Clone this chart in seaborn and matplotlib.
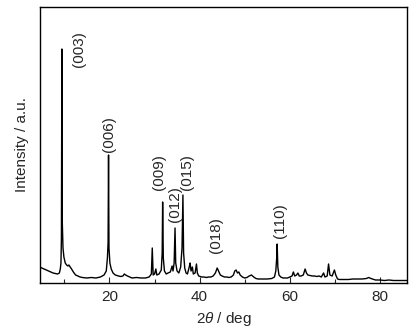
import matplotlib
matplotlib.use("Agg")
import matplotlib.pyplot as plt
import seaborn as sns
import pandas as pd
from matplotlib.ticker import MultipleLocator

two_theta = [4.6, 5.0, 5.5, 6.0, 6.5, 7.0, 7.5, 8.0, 8.5, 8.9, 9.1, 9.25, 9.35, 9.45, 9.55, 9.7,
             9.9, 10.2, 10.5, 10.8, 11.0, 11.3, 11.6, 12.0, 12.5, 13.0, 13.5, 14.0, 15.0, 16.0,
             17.0, 18.0, 18.8, 19.3, 19.55, 19.7, 19.8, 19.9, 20.1, 20.4, 20.8, 21.3, 22.0, 22.5,
             23.0, 23.3, 23.6, 24.0, 24.5, 25.0, 26.0, 27.0, 28.0, 28.8, 29.3, 29.5, 29.7, 30.0,
             30.3, 30.5, 31.0, 31.5, 31.7, 31.8, 31.95, 32.2, 32.6, 33.0, 33.5, 33.9, 34.1, 34.35,
             34.55, 34.7, 35.0, 35.4, 35.8, 36.1, 36.3, 36.45, 36.7, 37.0, 37.3, 37.7, 37.9, 38.1,
             38.4, 38.6, 39.0, 39.3, 39.5, 39.8, 40.5, 41.0, 41.5, 42.0, 42.5, 43.0, 43.5, 43.9,
             44.2, 44.6, 45.0, 45.5, 46.0, 46.5, 47.0, 47.5, 47.8, 48.1, 48.4, 48.7, 49.0, 49.5,
             50.0, 50.5, 51.0, 51.5, 52.0, 52.5, 53.0, 54.0, 55.0, 56.0, 56.6, 56.9, 57.1, 57.2,
             57.35, 57.6, 58.0, 58.5, 59.0, 59.5, 60.0, 60.5, 60.8, 61.1, 61.5, 61.8, 62.1, 62.5,
             63.0, 63.4, 63.7, 64.0, 64.5, 65.0, 65.5, 66.0, 66.5, 67.0, 67.5, 67.8, 68.3, 68.6,
             68.9, 69.4, 69.9, 70.2, 70.6, 71.0, 72.0, 73.0, 74.0, 75.0, 76.0, 77.0, 77.5, 78.0,
             79.0, 80.0, 81.0, 82.0, 83.0, 84.0, 85.0, 86.0]
intensity = [16, 15, 14, 13, 12, 11, 10, 9.5, 9, 10, 14, 20, 45, 234, 60, 35,
             26, 20, 18, 17, 18, 16, 14, 11, 8, 7, 6, 5.5, 5, 5.5,
             5, 6, 8, 12, 25, 40, 128, 35, 20, 14, 10, 8, 7, 6.5,
             7, 9, 8, 7, 6, 5, 5.5, 5, 5, 6, 9, 35, 8, 9,
             14, 8, 9, 13, 30, 81, 25, 12, 9, 10, 11, 17, 12, 20,
             55, 20, 12, 10, 16, 35, 88, 30, 15, 10, 9, 16, 20, 12,
             16, 9, 10, 19, 10, 7, 6, 6, 5.5, 6, 6, 7, 10, 15,
             12, 8, 7, 6, 6, 5.5, 6, 8, 12, 13, 10, 11, 8, 6,
             5, 5.5, 7, 8, 6, 4.5, 4, 4, 4, 4.5, 6, 12, 25, 39,
             16, 8, 6, 5, 5, 5, 6, 7, 11, 7, 8, 10, 7, 7,
             8, 14, 10, 8, 7.5, 7, 7, 6.5, 7, 6, 10, 6, 7, 19,
             8, 7, 13, 8, 4, 3.5, 3.5, 3.5, 4, 4, 4, 4.5, 5.5, 4.5,
             3, 3, 2.5, 3, 2.5, 2.5, 2.5, 2.5]

# reflection labels
hkl = ["(003)", "(006)", "(009)", "(012)", "(015)", "(018)", "(110)"]
hkl_x = [13.2, 19.8, 31.0, 34.6, 37.2, 43.7, 57.9]
hkl_y = [216, 131, 93, 61, 93, 30, 45]

df = pd.DataFrame({"two_theta": two_theta, "intensity": intensity})

sns.set_style("ticks")
plt.rcParams["font.family"] = ["Liberation Sans", "DejaVu Sans"]
plt.rcParams["mathtext.fontset"] = "custom"
plt.rcParams["mathtext.it"] = "Liberation Sans:italic"
plt.rcParams["mathtext.rm"] = "Liberation Sans"

fig = plt.figure(figsize=(4.19, 3.28), dpi=100)
ax = fig.add_axes([40 / 419, 1 - 283 / 328, 367 / 419, 276 / 328])

sns.lineplot(data=df, x="two_theta", y="intensity", color="black", linewidth=1.0, ax=ax)

for lab, xx, yy in zip(hkl, hkl_x, hkl_y):
    ax.text(xx, yy, lab, rotation=90, ha="center", va="bottom", fontsize=11)

ax.set_xlim(4.6, 86)
ax.set_ylim(0, 276)
ax.xaxis.set_major_locator(MultipleLocator(20))
ax.xaxis.set_minor_locator(MultipleLocator(10))
ax.tick_params(axis="x", which="major", direction="in", length=4, width=0.8, labelsize=11, pad=5)
ax.tick_params(axis="x", which="minor", direction="in", length=3, width=0.8)
ax.set_yticks([])
for s in ax.spines.values():
    s.set_linewidth(1.0)
    s.set_color("black")

ax.set_xlabel(r"2$\it{\theta}$ / deg", fontsize=11, labelpad=4)
ax.set_ylabel("Intensity / a.u.", fontsize=11, labelpad=8)

fig.savefig("out.png", dpi=100)
